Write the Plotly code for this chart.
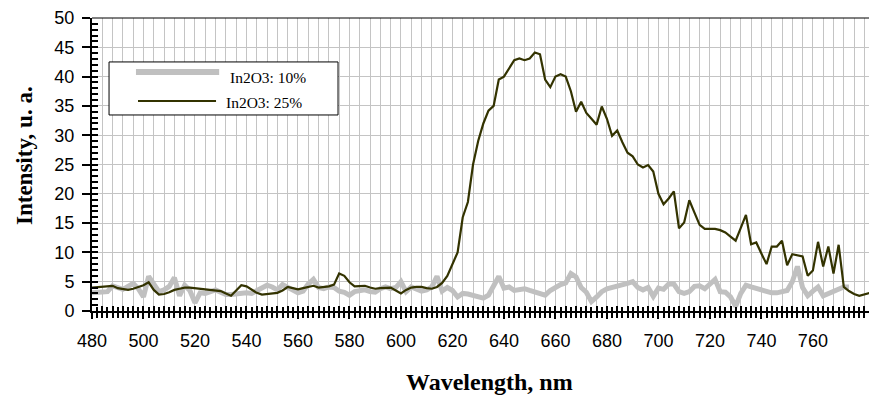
import plotly.graph_objects as go

# ---------------- data ----------------
wl_25 = list(range(480, 786, 2))
int_25 = [4.0, 4.1, 4.1, 4.2, 4.3, 3.9, 3.7, 3.6, 3.8, 4.1,
          4.4, 4.9, 3.6, 2.8, 2.9, 3.2, 3.6, 3.8, 4.0, 4.0,
          3.9, 3.8, 3.8, 3.7, 3.6, 3.4, 3.0, 2.6, 3.5, 4.4,
          4.2, 3.6, 3.1, 2.8, 2.9, 3.0, 3.1, 3.5, 4.1, 3.9,
          3.7, 3.9, 4.1, 4.3, 4.0, 4.1, 4.2, 4.5, 6.4, 6.0,
          4.9, 4.2, 4.3, 4.3, 4.0, 3.8, 3.9, 3.9, 4.0, 3.5,
          3.0, 3.6, 4.0, 4.1, 4.1, 3.9, 3.8, 4.1, 4.8, 6.0,
          8.0, 10.0, 16.0, 18.6, 25.0, 29.0, 32.0, 34.2, 35.0, 39.5,
          40.0, 41.5, 42.8, 43.1, 42.8, 43.1, 44.1, 43.8, 39.5, 38.2,
          40.0, 40.4, 40.0, 37.5, 34.0, 35.7, 33.8, 32.8, 31.8, 34.9,
          32.8, 29.9, 30.8, 28.8, 27.0, 26.4, 25.0, 24.5, 24.9, 23.8,
          20.0, 18.2, 19.2, 20.4, 14.1, 15.1, 18.9, 16.8, 14.7, 14.0,
          14.0, 14.0, 13.8, 13.4, 12.7, 12.0, 14.2, 16.4, 11.4, 11.7,
          9.8, 8.0, 11.0, 11.0, 12.0, 7.8, 9.7, 9.5, 9.3, 6.0,
          6.9, 11.8, 7.6, 11.0, 6.4, 11.3, 4.1, 3.4, 2.9, 2.6,
          2.8, 3.0, 3.3]

wl_10 = list(range(480, 776, 2))
int_10 = [3.1, 3.1, 3.2, 3.3, 4.3, 4.0, 3.7, 4.2, 4.7, 3.8,
          2.4, 5.9, 4.5, 3.3, 3.6, 4.2, 5.7, 2.6, 4.4, 3.5,
          1.4, 3.1, 3.0, 3.2, 3.6, 3.2, 2.8, 2.8, 2.9, 3.2,
          3.1, 3.0, 3.4, 3.8, 4.4, 4.1, 3.6, 4.5, 4.0, 3.5,
          3.1, 3.4, 4.6, 5.4, 4.0, 3.8, 4.1, 4.0, 3.4, 3.2,
          2.7, 3.3, 3.5, 3.6, 3.3, 3.2, 3.8, 4.1, 3.8, 4.0,
          5.0, 3.3, 4.1, 3.8, 3.4, 3.6, 4.1, 5.9, 3.4, 4.0,
          3.5, 2.4, 3.0, 2.9, 2.7, 2.5, 2.2, 2.7, 4.5, 5.9,
          3.9, 4.1, 3.5, 3.6, 3.8, 3.5, 3.2, 2.9, 2.7, 3.5,
          4.1, 4.5, 4.8, 6.4, 5.8, 4.0, 3.2, 1.6, 2.4, 3.3,
          3.8, 4.0, 4.1, 4.3, 4.7, 5.0, 4.0, 3.6, 4.0, 2.5,
          3.9, 3.7, 4.6, 4.6, 3.3, 3.0, 3.3, 4.2, 4.3, 3.8,
          4.5, 5.4, 3.3, 3.2, 2.4, 0.8, 3.0, 4.4, 4.1, 3.8,
          3.5, 3.2, 3.1, 3.1, 3.2, 3.5, 5.0, 7.6, 4.0, 2.6,
          3.4, 4.1, 2.6, 3.0, 3.4, 3.9, 4.1, 4.1]

x_tick_vals = [480, 500, 520, 540, 560, 580, 600, 620, 640, 660, 680, 700, 720, 740, 760]
y_tick_vals = [0, 5, 10, 15, 20, 25, 30, 35, 40, 45, 50]

series_names = ["In2O3: 10%", "In2O3: 25%"]
x_title = "Wavelength, nm"
y_title = "Intensity, u. a."

# ---------------- styles ----------------
GRAY = "#c0c0c0"
DARK = "#333300"
GRID = "#c4c4c4"
SANS = "Liberation Sans, Arial, sans-serif"
SERIF = "Liberation Serif, Times New Roman, serif"
XR = [480, 784.9]
YR = [0, 50]

# the page body has an 8px default margin; size the figure so that the
# plot area lands where the reference has it inside the 877x398 window
PAGE_OFF = 8

fig = go.Figure()
fig.add_trace(go.Scatter(x=wl_10, y=int_10, mode="lines", name=series_names[0],
                         line=dict(color=GRAY, width=5), showlegend=False))
fig.add_trace(go.Scatter(x=wl_25, y=int_25, mode="lines", name=series_names[1],
                         line=dict(color=DARK, width=2.2), showlegend=False))
# helper trace so the overlay axes (grid + inner ticks) exist
fig.add_trace(go.Scatter(x=[], y=[], xaxis="x2", yaxis="y2", showlegend=False,
                         hoverinfo="skip"))

fig.update_layout(
    width=877 - PAGE_OFF, height=398 - PAGE_OFF,
    margin=dict(l=92 - PAGE_OFF, r=0, t=18 - PAGE_OFF, b=87, autoexpand=False),
    paper_bgcolor="white", plot_bgcolor="white",
    xaxis=dict(range=XR, tickmode="array", tickvals=x_tick_vals,
               ticktext=[str(v) for v in x_tick_vals], automargin=False,
               ticks="outside", ticklen=6, tickwidth=2, tickcolor="black",
               minor=dict(tickmode="linear", tick0=480, dtick=2, ticks="outside",
                          ticklen=5, tickwidth=1.5, tickcolor="black", showgrid=False),
               showgrid=False, zeroline=False,
               showline=True, linecolor="black", linewidth=2,
               ticklabelstandoff=6,
               tickfont=dict(family=SANS, size=18, color="black")),
    xaxis2=dict(range=XR, overlaying="x", anchor="y", side="bottom", automargin=False,
                tick0=480, dtick=4, ticks="inside", ticklen=5, tickwidth=2,
                tickcolor="black", showticklabels=False,
                minor=dict(tick0=480, dtick=2, ticks="inside", ticklen=4,
                           tickwidth=1.5, tickcolor="black", showgrid=False),
                showgrid=True, gridcolor=GRID, gridwidth=1,
                zeroline=False, showline=False),
    yaxis=dict(range=YR, tickmode="array", tickvals=y_tick_vals, automargin=False,
               ticks="outside", ticklen=8, tickwidth=2, tickcolor="black",
               showgrid=True, gridcolor=GRID, gridwidth=1, zeroline=False,
               showline=True, linecolor="black", linewidth=2,
               ticklabelstandoff=4,
               tickfont=dict(family=SANS, size=18, color="black")),
    yaxis2=dict(range=YR, overlaying="y", anchor="x", side="left", automargin=False,
                tick0=0, dtick=1, ticks="inside", ticklen=6, tickwidth=1.5,
                tickcolor="black", showticklabels=False, showgrid=False,
                zeroline=False, showline=False),
    showlegend=False,
)

# top border of the plot area
fig.add_shape(type="line", xref="paper", yref="paper", x0=0, x1=1, y0=1, y1=1,
              line=dict(color="black", width=1))

# legend box (drawn manually to get the long line samples)
fig.add_shape(type="rect", xref="paper", yref="paper",
              x0=0.0217, x1=0.3134, y0=0.669, y1=0.850,
              fillcolor="white", line=dict(color="black", width=1), layer="above")
fig.add_shape(type="line", xref="paper", yref="paper",
              x0=0.056, x1=0.162, y0=0.816, y1=0.816,
              line=dict(color=GRAY, width=6))
fig.add_shape(type="line", xref="paper", yref="paper",
              x0=0.0586, x1=0.158, y0=0.717, y1=0.717,
              line=dict(color=DARK, width=2))
fig.add_annotation(xref="paper", yref="paper", x=0.173, y=0.797, xanchor="left",
                   yanchor="middle", text=series_names[0], showarrow=False,
                   font=dict(family=SERIF, size=15.5, color="black"))
fig.add_annotation(xref="paper", yref="paper", x=0.168, y=0.713, xanchor="left",
                   yanchor="middle", text=series_names[1], showarrow=False,
                   font=dict(family=SERIF, size=15.5, color="black"))

# axis titles
fig.add_annotation(xref="paper", yref="paper", x=0.507, y=-0.242,
                   xanchor="center", yanchor="middle", text="<b>%s</b>" % x_title,
                   showarrow=False, font=dict(family=SERIF, size=24, color="black"))
fig.add_annotation(xref="paper", yref="paper", x=-0.0866, y=0.529,
                   xanchor="center", yanchor="middle", text="<b>%s</b>" % y_title,
                   textangle=-90, showarrow=False,
                   font=dict(family=SERIF, size=23, color="black"))

fig.write_html("out.html")
